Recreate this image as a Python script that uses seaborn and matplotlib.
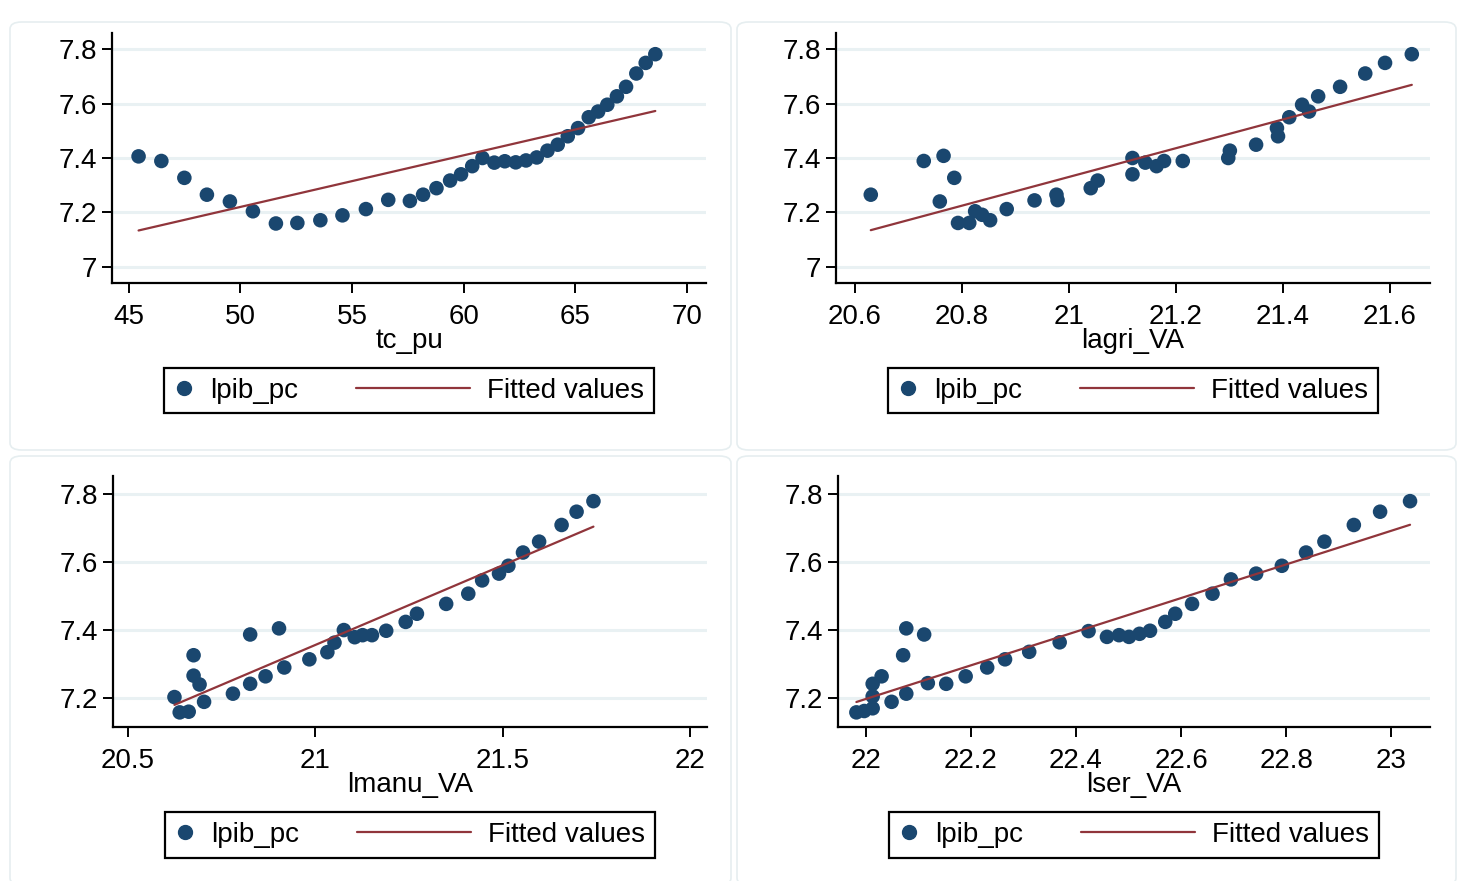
import numpy as np
import pandas as pd
import seaborn as sns
import matplotlib.pyplot as plt
from matplotlib.lines import Line2D
from matplotlib.legend_handler import HandlerLine2D
from matplotlib.patches import FancyBboxPatch

# lpib_pc against tc_pu
tc_pu = [45.44, 46.46, 47.49, 48.50, 49.53, 50.56, 51.59, 52.55, 53.58, 54.57,
         55.62, 56.62, 57.59, 58.18, 58.78, 59.39, 59.88, 60.38, 60.84, 61.37,
         61.84, 62.33, 62.79, 63.27, 63.75, 64.21, 64.66, 65.12, 65.60, 66.02,
         66.43, 66.86, 67.27, 67.73, 68.15, 68.58]
y_tc = [7.406, 7.389, 7.327, 7.265, 7.240, 7.204, 7.159, 7.161, 7.171, 7.189,
        7.212, 7.246, 7.242, 7.265, 7.289, 7.317, 7.340, 7.370, 7.400, 7.383,
        7.388, 7.384, 7.391, 7.402, 7.427, 7.449, 7.480, 7.510, 7.550, 7.571,
        7.596, 7.627, 7.662, 7.711, 7.750, 7.782]

# lpib_pc against lagri_VA
lagri_VA = [20.630, 20.729, 20.766, 20.786, 20.759, 20.793, 20.814, 20.825, 20.838,
            20.853, 20.884, 20.936, 20.977, 20.979, 21.041, 21.054, 21.119, 21.119,
            21.143, 21.164, 21.178, 21.213, 21.298, 21.301, 21.350, 21.391, 21.389,
            21.412, 21.436, 21.449, 21.466, 21.507, 21.554, 21.591, 21.641]
y_agri = [7.265, 7.389, 7.408, 7.327, 7.240, 7.161, 7.161, 7.204, 7.191,
          7.171, 7.212, 7.244, 7.265, 7.245, 7.289, 7.317, 7.340, 7.400,
          7.383, 7.370, 7.389, 7.389, 7.400, 7.427, 7.449, 7.480, 7.510,
          7.550, 7.596, 7.571, 7.627, 7.662, 7.711, 7.750, 7.782]

# lpib_pc against lmanu_VA
lmanu_VA = [20.624, 20.638, 20.662, 20.675, 20.675, 20.691, 20.703, 20.780, 20.826,
            20.826, 20.867, 20.903, 20.917, 20.984, 21.032, 21.051, 21.076, 21.105,
            21.126, 21.151, 21.189, 21.241, 21.271, 21.349, 21.408, 21.445, 21.490,
            21.515, 21.554, 21.597, 21.657, 21.697, 21.742]
y_manu = [7.202, 7.157, 7.159, 7.325, 7.265, 7.239, 7.188, 7.212, 7.386,
          7.241, 7.263, 7.404, 7.289, 7.313, 7.334, 7.362, 7.399, 7.378,
          7.384, 7.384, 7.397, 7.423, 7.447, 7.476, 7.506, 7.545, 7.565,
          7.588, 7.627, 7.659, 7.708, 7.747, 7.778]

# lpib_pc against lser_VA
lser_VA = [21.982, 21.997, 22.013, 22.013, 22.013, 22.030, 22.049, 22.071, 22.077,
           22.077, 22.111, 22.118, 22.153, 22.190, 22.231, 22.265, 22.311, 22.369,
           22.424, 22.459, 22.482, 22.501, 22.521, 22.541, 22.570, 22.589, 22.621,
           22.660, 22.695, 22.743, 22.792, 22.838, 22.873, 22.929, 22.979, 23.036]
y_ser = [7.157, 7.161, 7.169, 7.204, 7.241, 7.263, 7.188, 7.325, 7.404,
         7.212, 7.386, 7.243, 7.241, 7.263, 7.289, 7.313, 7.335, 7.363,
         7.396, 7.379, 7.384, 7.379, 7.388, 7.397, 7.423, 7.447, 7.476,
         7.506, 7.548, 7.565, 7.588, 7.627, 7.659, 7.708, 7.747, 7.778]

xticks_tc = [45, 50, 55, 60, 65, 70]
xticks_agri = [20.6, 20.8, 21, 21.2, 21.4, 21.6]
xticks_manu = [20.5, 21, 21.5, 22]
xticks_ser = [22, 22.2, 22.4, 22.6, 22.8, 23]
yticks_top = [7, 7.2, 7.4, 7.6, 7.8]
yticks_bottom = [7.2, 7.4, 7.6, 7.8]

NAVY = "#1a476f"
MAROON = "#90353b"
GRID = "#e9f1f3"
FONT = ["Liberation Sans", "DejaVu Sans"]
FS = 20

sns.set_style("white")
plt.rcParams["font.family"] = FONT
plt.rcParams["text.color"] = "black"
plt.rcParams["axes.labelcolor"] = "black"
plt.rcParams["xtick.color"] = "black"
plt.rcParams["ytick.color"] = "black"


class LongLine(HandlerLine2D):
    # Stata draws the fitted-values key much longer than the marker key
    def create_artists(self, legend, orig_handle, xdescent, ydescent,
                       width, height, fontsize, trans):
        yy = (height - ydescent) / 2
        ln = Line2D([-xdescent - 3.4 * fontsize, -xdescent + width], [yy, yy],
                    color=orig_handle.get_color(),
                    lw=orig_handle.get_linewidth())
        ln.set_transform(trans)
        return [ln]


fig = plt.figure(figsize=(14.62, 8.81), dpi=100)
W, H = 1462, 881

# faint panel frames
for (x0, y0, x1, y1) in [(10, 22, 731, 450), (737, 22, 1456, 450),
                         (10, 456, 731, 885), (737, 456, 1456, 885)]:
    fig.patches.append(FancyBboxPatch((x0 / W, 1 - y1 / H), (x1 - x0) / W, (y1 - y0) / H,
                                      boxstyle="round,pad=0,rounding_size=0.008",
                                      transform=fig.transFigure, fc="none",
                                      ec="#e6eef0", lw=1.2, zorder=-1))

panels = [
    (tc_pu, y_tc, "tc_pu", xticks_tc, (44.25, 70.85), yticks_top, (6.94, 7.86), (112, 33, 706, 283)),
    (lagri_VA, y_agri, "lagri_VA", xticks_agri, (20.565, 21.675), yticks_top, (6.94, 7.86), (836, 33, 1430, 283)),
    (lmanu_VA, y_manu, "lmanu_VA", xticks_manu, (20.46, 22.045), yticks_bottom, (7.114, 7.852), (113, 476, 707, 727)),
    (lser_VA, y_ser, "lser_VA", xticks_ser, (21.947, 23.074), yticks_bottom, (7.114, 7.852), (838, 476, 1430, 727)),
]

for xs, ys, name, xt, xl, yt, yl, (l, t, r, b) in panels:
    ax = fig.add_axes([l / W, 1 - b / H, (r - l) / W, (b - t) / H])
    ax.patch.set_alpha(0)
    df = pd.DataFrame({name: xs, "lpib_pc": ys})
    sns.regplot(data=df, x=name, y="lpib_pc", ax=ax, ci=None, truncate=True,
                scatter_kws=dict(s=110, color=NAVY, edgecolor="none", alpha=1, zorder=3),
                line_kws=dict(color=MAROON, lw=1.6, zorder=4))
    ax.set_xlim(*xl)
    ax.set_ylim(*yl)
    ax.set_xticks(xt)
    ax.set_xticklabels([f"{v:g}" for v in xt])
    ax.set_yticks(yt)
    ax.set_yticklabels([f"{v:g}" for v in yt])
    ax.yaxis.grid(True, color=GRID, lw=2.2)
    ax.set_axisbelow(True)
    for s in ["top", "right"]:
        ax.spines[s].set_visible(False)
    for s in ["left", "bottom"]:
        ax.spines[s].set_color("black")
        ax.spines[s].set_linewidth(1.6)
    ax.tick_params(axis="both", which="major", length=7.5, width=1.4, color="black",
                   labelsize=FS, pad=3, bottom=True, left=True, labelcolor="black")
    ax.tick_params(axis="x", pad=7.5)
    ax.set_xlabel(name, fontsize=FS, labelpad=-1.5, color="black")
    ax.set_ylabel("")

    handles = [Line2D([], [], ls="none", marker="o", ms=10, color=NAVY),
               Line2D([], [], color=MAROON, lw=1.6)]
    leg = ax.legend(handles, ["lpib_pc", "Fitted values"], loc="upper center",
                    bbox_to_anchor=(0.5, -0.34), ncol=2, fontsize=FS,
                    frameon=True, fancybox=False, edgecolor="black", framealpha=1,
                    handlelength=0.7, handletextpad=0.6, columnspacing=5.5,
                    borderpad=0.35, borderaxespad=0,
                    handler_map={handles[1]: LongLine()})
    leg.get_frame().set_linewidth(1.6)
    for txt in leg.get_texts():
        txt.set_color("black")

fig.savefig("out.png", dpi=100, facecolor="white")
